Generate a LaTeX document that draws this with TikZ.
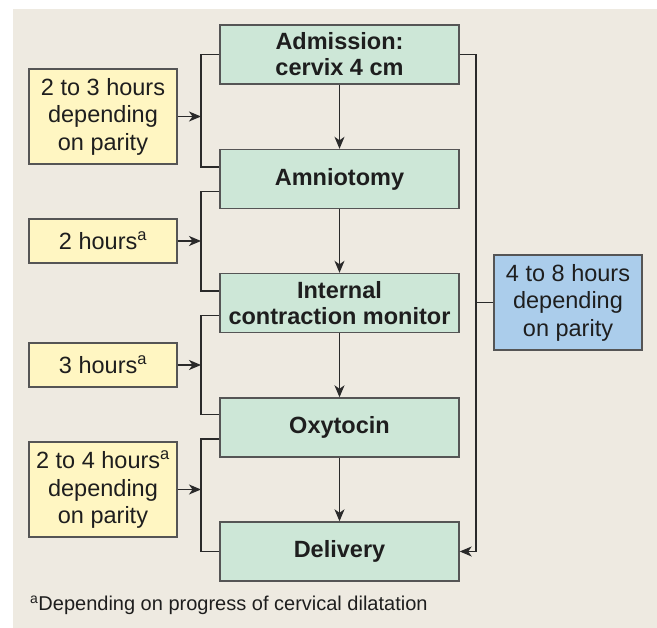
\documentclass[tikz,border=0pt]{standalone}
\usepackage{fontspec}
\setmainfont{Liberation Sans}
\usetikzlibrary{arrows.meta}
\definecolor{bgc}{HTML}{EEEAE1}
\definecolor{greenc}{HTML}{CDE7D7}
\definecolor{yellowc}{HTML}{FFF6C2}
\definecolor{bluec}{HTML}{ABCDEB}
\definecolor{edgec}{HTML}{555555}
\definecolor{linec}{HTML}{2A2A2A}
\definecolor{txtc}{HTML}{1E1E1E}
\tikzset{
  stagebox/.style={draw=edgec, line width=1.4pt, fill=greenc, minimum width=239pt, minimum height=59pt,
    inner sep=0pt, align=center, font=\fontsize{23.5}{26}\selectfont\bfseries, text=txtc},
  timebox/.style={draw=edgec, line width=1.4pt, fill=yellowc, minimum width=148pt,
    inner sep=0pt, align=center, font=\fontsize{23.5}{27.5}\selectfont, text=txtc},
  totalbox/.style={timebox, fill=bluec},
  conn/.style={draw=linec, line width=1.3pt},
  tip/.style={-{Stealth[length=12pt,width=10pt,inset=3.5pt]}}
}
\begin{document}
\begin{tikzpicture}[x=1pt,y=-1pt]
\useasboundingbox (0,0) rectangle (657,628);
\fill[white] (0,0) rectangle (657,628);
\fill[bgc] (13,9) rectangle (657,628);

\node[stagebox] (g1) at (339.5,54.5) {Admission:\\cervix 4 cm};
\node[stagebox] (g2) at (339.5,179) {Amniotomy};
\node[stagebox] (g3) at (339.5,303) {Internal\\contraction monitor};
\node[stagebox] (g4) at (339.5,427.5) {Oxytocin};
\node[stagebox] (g5) at (339.5,551.5) {Delivery};

\node[timebox, minimum height=95pt] (y1) at (103,116.5) {2 to 3 hours\\depending\\on parity};
\node[timebox, minimum height=44pt] (y2) at (103,241) {2 hours\textsuperscript{a}};
\node[timebox, minimum height=44pt] (y3) at (103,365) {3 hours\textsuperscript{a}};
\node[timebox, minimum height=95pt] (y4) at (103,489.5) {2 to 4 hours\textsuperscript{a}\\depending\\on parity};

\node[totalbox, minimum height=95pt] (b1) at (568,302.5) {4 to 8 hours\\depending\\on parity};

\node[anchor=base west, inner sep=0pt, font=\fontsize{20}{24}\selectfont, text=txtc] (fn) at (30,611) {\textsuperscript{a}Depending on progress of cervical dilatation};

% vertical arrows
\draw[conn,tip] (g1) -- (g2);
\draw[conn,tip] (g2) -- (g3);
\draw[conn,tip] (g3) -- (g4);
\draw[conn,tip] (g4) -- (g5);

% left brackets
\coordinate (L) at (201,0);
\draw[conn] (g1.west) -- (g1.west -| L) |- ([yshift=12pt]g2.west);
\draw[conn] ([yshift=-12.5pt]g2.west) -- ([yshift=-12.5pt]g2.west -| L) |- ([yshift=12pt]g3.west);
\draw[conn] ([yshift=-12.5pt]g3.west) -- ([yshift=-12.5pt]g3.west -| L) |- ([yshift=13pt]g4.west);
\draw[conn] ([yshift=-11.5pt]g4.west) -- ([yshift=-11.5pt]g4.west -| L) |- (g5.west);

\draw[conn,tip] (y1.east) -- (y1.east -| L);
\draw[conn,tip] (y2.east) -- (y2.east -| L);
\draw[conn,tip] (y3.east) -- (y3.east -| L);
\draw[conn,tip] (y4.east) -- (y4.east -| L);

% right bracket
\coordinate (R) at (476,0);
\draw[conn,tip] (g1.east) -- (g1.east -| R) |- (g5.east);
\draw[conn] (b1.west) -- (b1.west -| R);
\end{tikzpicture}
\end{document}
